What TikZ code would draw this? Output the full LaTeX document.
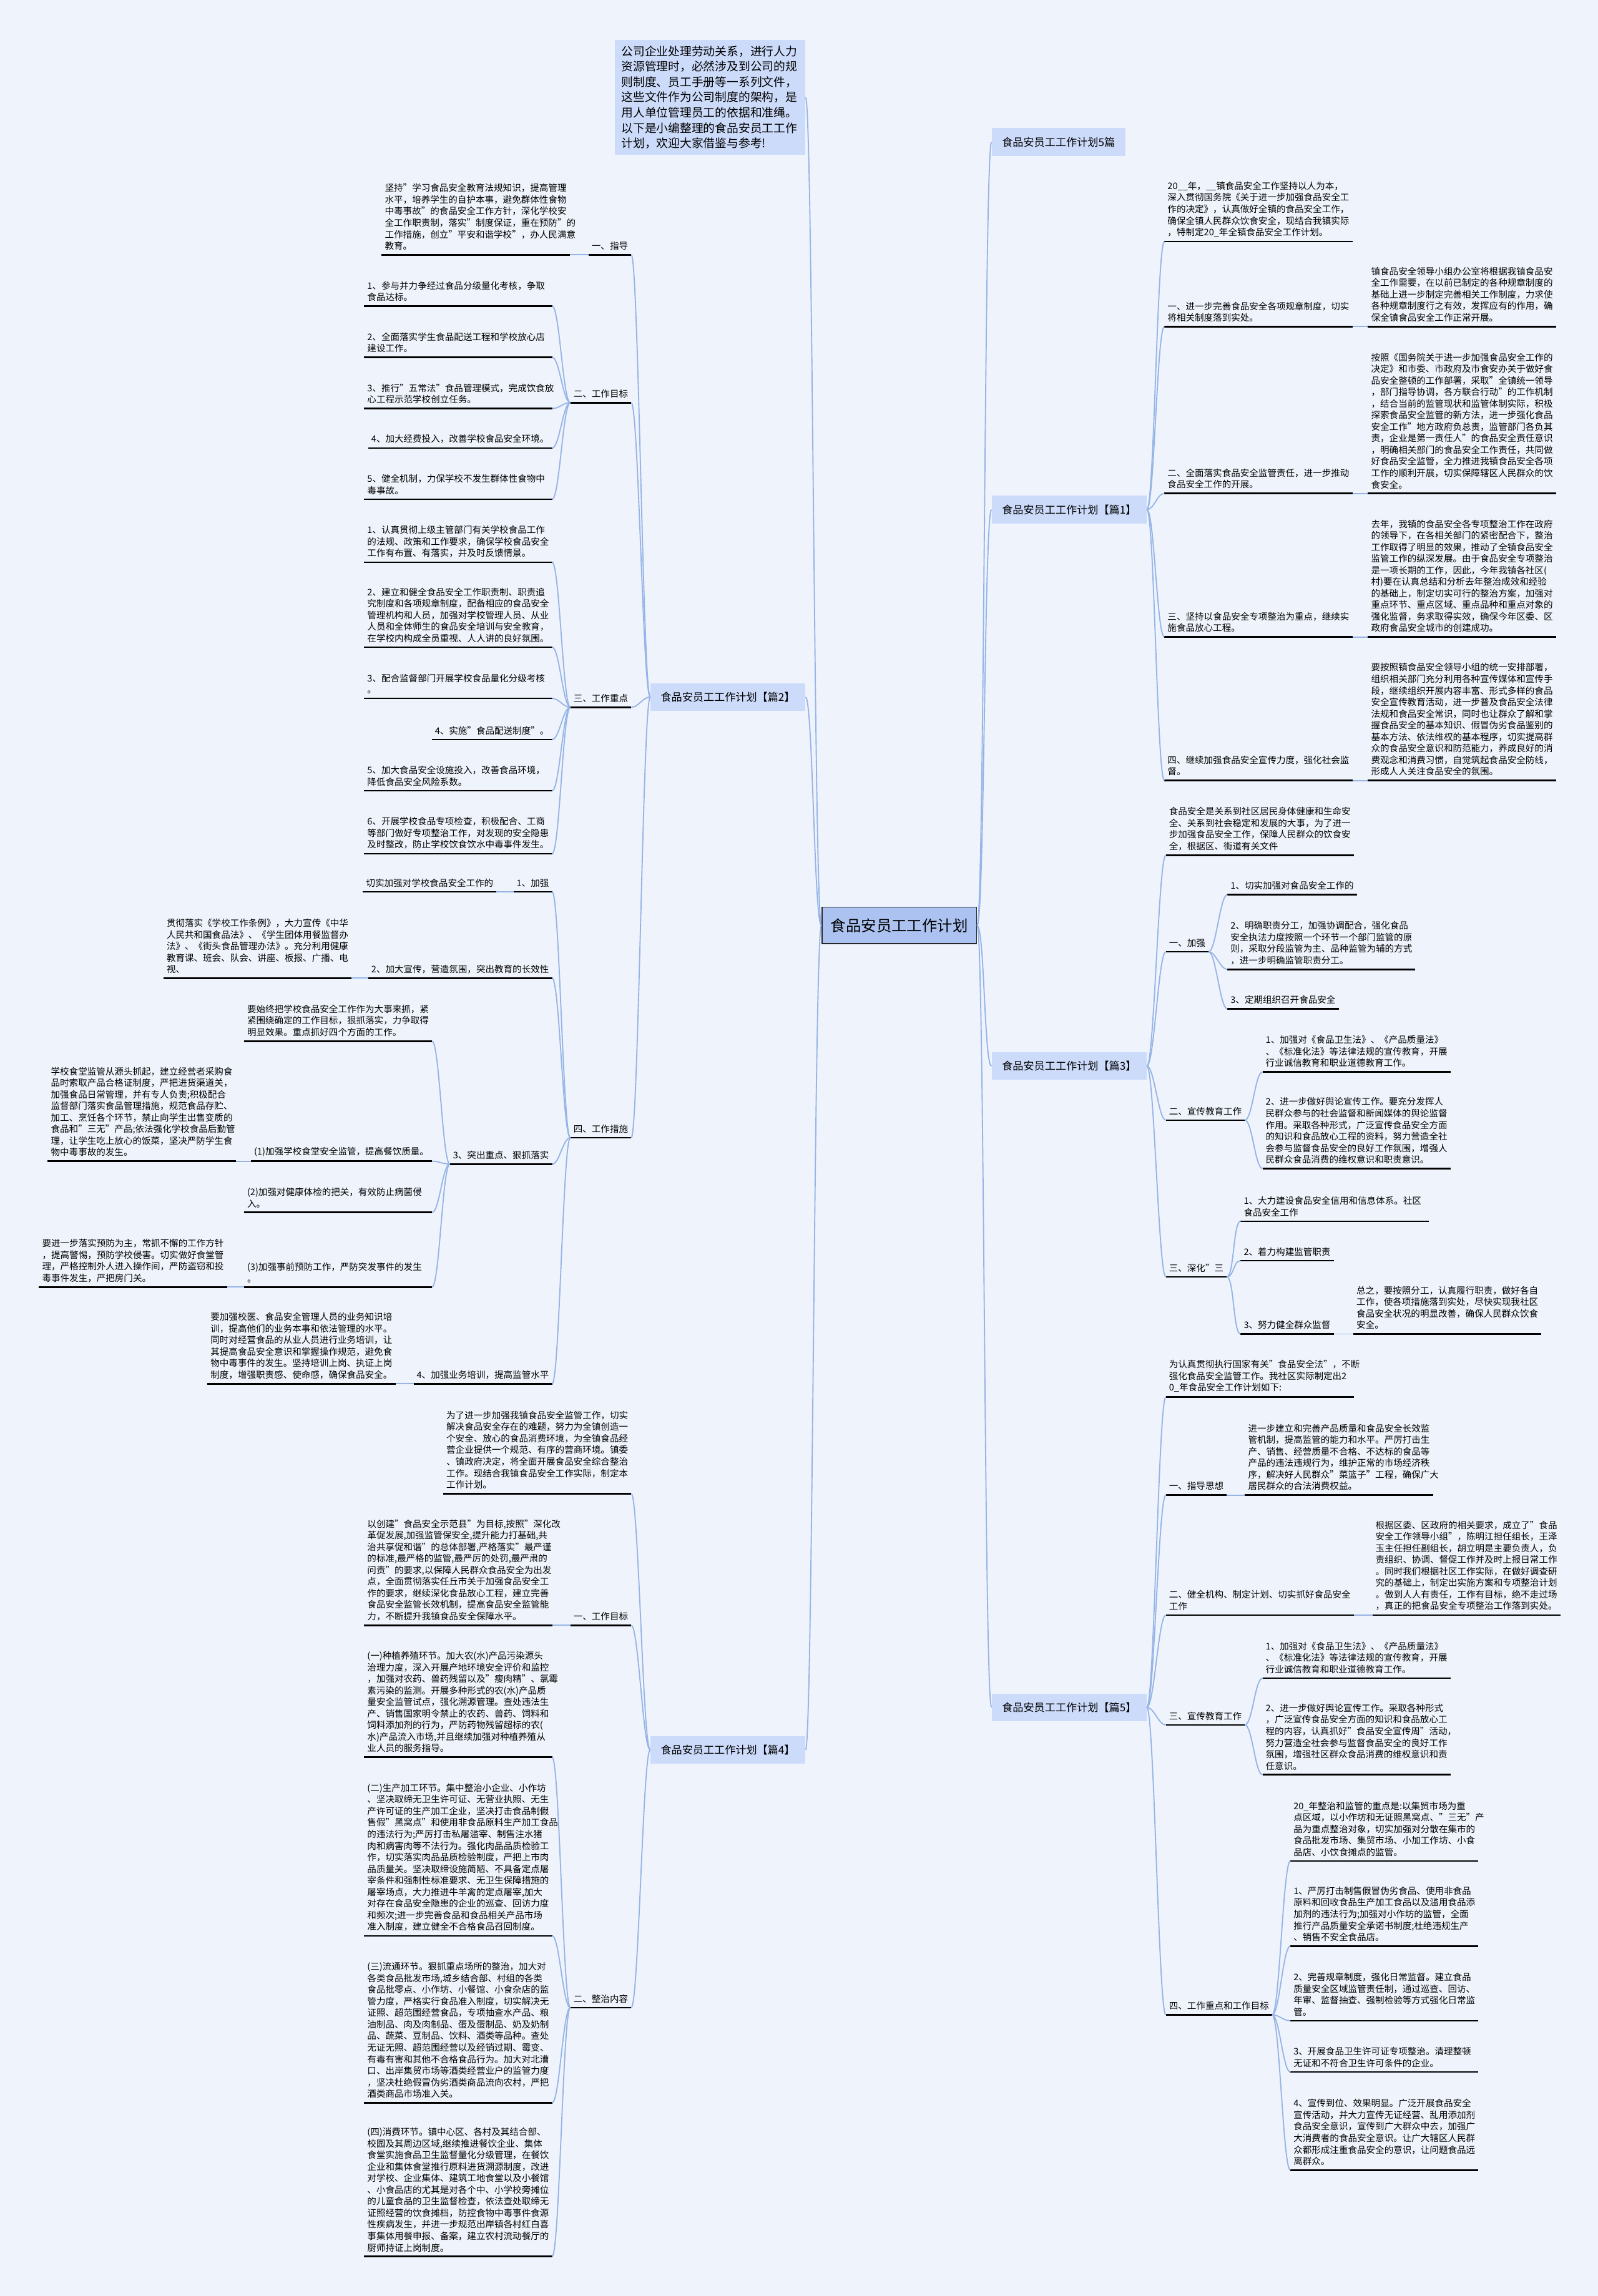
\documentclass[tikz,border=0pt]{standalone}
\usepackage{fontspec}
\setmainfont{Noto Sans CJK SC}
\definecolor{bgc}{RGB}{239,244,252}
\definecolor{topicc}{RGB}{204,219,250}
\definecolor{rootc}{RGB}{172,195,242}
\definecolor{linec}{RGB}{150,180,230}
\newcommand\leaffont{\fontsize{6.2pt}{7.9pt}\selectfont}
\newcommand\topicfont{\fontsize{7.3pt}{9pt}\selectfont}
\newcommand\rootfont{\fontsize{10.4pt}{12pt}\selectfont}
\newcommand\introfont{\fontsize{8pt}{10.5pt}\selectfont}
\newcommand\linkL[2]{\draw[conn] (#1) .. controls +(-5,0) and +(5,0) .. (#2);}
\newcommand\linkR[2]{\draw[conn] (#1) .. controls +(5,0) and +(-5,0) .. (#2);}
\tikzset{
  conn/.style={draw=linec, line width=0.8pt},
  uline/.style={draw=black, line width=1.1pt},
  leaf/.style={inner xsep=2pt, inner ysep=3pt, align=left, font=\leaffont,
    append after command={(\tikzlastnode.south west) edge[uline] (\tikzlastnode.south east)}},
  para/.style={leaf, text width=124pt},
  rt/.style={anchor=south west},
  lt/.style={anchor=south east},
  topic/.style={fill=topicc, inner xsep=7pt, minimum height=19pt, font=\topicfont},
  rootbox/.style={fill=rootc, draw=black!85, line width=0.7pt, inner xsep=6pt, minimum height=25pt, font=\rootfont},
}
\begin{document}
\begin{tikzpicture}[x=1pt,y=-1pt]
\fill[bgc] (0,0) rectangle (1091,1568);
\useasboundingbox (0,0) rectangle (1091,1568);

% ---------- root and main topics ----------
\node[rootbox] (root) at (614,632) {食品安员工工作计划};
\node[topic, anchor=west] (s0) at (677,97) {食品安员工工作计划5篇};
\node[topic, anchor=west] (s1) at (677,348) {食品安员工工作计划【篇1】};
\node[topic, anchor=west] (s3) at (677,728) {食品安员工工作计划【篇3】};
\node[topic, anchor=west] (s5) at (677,1166) {食品安员工工作计划【篇5】};
\node[topic, anchor=east, text width=121pt, inner xsep=4.5pt, inner ysep=4pt, align=left, font=\introfont] (intro) at (550,66.5)
 {公司企业处理劳动关系，进行人力\\资源管理时，必然涉及到公司的规\\则制度、员工手册等一系列文件，\\这些文件作为公司制度的架构，是\\用人单位管理员工的依据和准绳。\\以下是小编整理的食品安员工工作\\计划，欢迎大家借鉴与参考!};
\node[topic, anchor=east] (s2) at (550,476) {食品安员工工作计划【篇2】};
\node[topic, anchor=east] (s4) at (550,1195) {食品安员工工作计划【篇4】};

% ---------- 篇1 ----------
\node[para,rt] (a1) at (795,165) {20\_\_年，\_\_镇食品安全工作坚持以人为本，\\深入贯彻国务院《关于进一步加强食品安全工\\作的决定》，认真做好全镇的食品安全工作，\\确保全镇人民群众饮食安全，现结合我镇实际\\，特制定20\_年全镇食品安全工作计划。};
\node[para,rt] (a2) at (795,223) {一、进一步完善食品安全各项规章制度，切实\\将相关制度落到实处。};
\node[para,rt] (a2x) at (934,223) {镇食品安全领导小组办公室将根据我镇食品安\\全工作需要，在以前已制定的各种规章制度的\\基础上进一步制定完善相关工作制度，力求使\\各种规章制度行之有效，发挥应有的作用，确\\保全镇食品安全工作正常开展。};
\node[para,rt] (a3) at (795,337) {二、全面落实食品安全监管责任，进一步推动\\食品安全工作的开展。};
\node[para,rt] (a3x) at (934,337) {按照《国务院关于进一步加强食品安全工作的\\决定》和市委、市政府及市食安办关于做好食\\品安全整顿的工作部署，采取"全镇统一领导\\，部门指导协调，各方联合行动"的工作机制\\，结合当前的监管现状和监管体制实际，积极\\探索食品安全监管的新方法，进一步强化食品\\安全工作"地方政府负总责，监管部门各负其\\责，企业是第一责任人"的食品安全责任意识\\，明确相关部门的食品安全工作责任，共同做\\好食品安全监管，全力推进我镇食品安全各项\\工作的顺利开展，切实保障辖区人民群众的饮\\食安全。};
\node[para,rt] (a4) at (795,435) {三、坚持以食品安全专项整治为重点，继续实\\施食品放心工程。};
\node[para,rt] (a4x) at (934,435) {去年，我镇的食品安全各专项整治工作在政府\\的领导下，在各相关部门的紧密配合下，整治\\工作取得了明显的效果，推动了全镇食品安全\\监管工作的纵深发展。由于食品安全专项整治\\是一项长期的工作，因此，今年我镇各社区(\\村)要在认真总结和分析去年整治成效和经验\\的基础上，制定切实可行的整治方案，加强对\\重点环节、重点区域、重点品种和重点对象的\\强化监督，务求取得实效，确保今年区委、区\\政府食品安全城市的创建成功。};
\node[para,rt] (a5) at (795,533) {四、继续加强食品安全宣传力度，强化社会监\\督。};
\node[para,rt] (a5x) at (934,533) {要按照镇食品安全领导小组的统一安排部署，\\组织相关部门充分利用各种宣传媒体和宣传手\\段，继续组织开展内容丰富、形式多样的食品\\安全宣传教育活动，进一步普及食品安全法律\\法规和食品安全常识，同时也让群众了解和掌\\握食品安全的基本知识、假冒伪劣食品鉴别的\\基本方法、依法维权的基本程序，切实提高群\\众的食品安全意识和防范能力，养成良好的消\\费观念和消费习惯，自觉筑起食品安全防线，\\形成人人关注食品安全的氛围。};

% ---------- 篇3 ----------
\node[para,rt] (b1) at (796,584) {食品安全是关系到社区居民身体健康和生命安\\全、关系到社会稳定和发展的大事，为了进一\\步加强食品安全工作，保障人民群众的饮食安\\全，根据区、街道有关文件};
\node[leaf,rt] (b2) at (796,650) {一、加强};
\node[leaf,rt] (b21) at (838,611) {1、切实加强对食品安全工作的};
\node[para,rt] (b22) at (838,662) {2、明确职责分工，加强协调配合，强化食品\\安全执法力度按照一个环节一个部门监管的原\\则，采取分段监管为主、品种监管为辅的方式\\，进一步明确监管职责分工。};
\node[leaf,rt] (b23) at (838,689) {3、定期组织召开食品安全};
\node[leaf,rt] (b3) at (796,765) {二、宣传教育工作};
\node[para,rt] (b31) at (862,732) {1、加强对《食品卫生法》、《产品质量法》\\、《标准化法》等法律法规的宣传教育，开展\\行业诚信教育和职业道德教育工作。};
\node[para,rt] (b32) at (862,798) {2、进一步做好舆论宣传工作。要充分发挥人\\民群众参与的社会监督和新闻媒体的舆论监督\\作用。采取各种形式，广泛宣传食品安全方面\\的知识和食品放心工程的资料，努力营造全社\\会参与监督食品安全的良好工作氛围，增强人\\民群众食品消费的维权意识和职责意识。};
\node[leaf,rt] (b4) at (796,872) {三、深化"三};
\node[para,rt] (b41) at (847,834) {1、大力建设食品安全信用和信息体系。社区\\食品安全工作};
\node[leaf,rt] (b42) at (847,861) {2、着力构建监管职责};
\node[leaf,rt] (b43) at (847,911) {3、努力健全群众监督};
\node[para,rt] (b43x) at (924,911) {总之，要按照分工，认真履行职责，做好各自\\工作，使各项措施落到实处，尽快实现我社区\\食品安全状况的明显改善，确保人民群众饮食\\安全。};

% ---------- 篇5 ----------
\node[para,rt] (c1) at (796,954) {为认真贯彻执行国家有关"食品安全法"，不断\\强化食品安全监管工作。我社区实际制定出2\\0\_年食品安全工作计划如下:};
\node[leaf,rt] (c2) at (796,1021) {一、指导思想};
\node[para,rt] (c2x) at (850,1021) {进一步建立和完善产品质量和食品安全长效监\\管机制，提高监管的能力和水平。严厉打击生\\产、销售、经营质量不合格、不达标的食品等\\产品的违法违规行为，维护正常的市场经济秩\\序，解决好人民群众"菜篮子"工程，确保广大\\居民群众的合法消费权益。};
\node[para,rt] (c3) at (796,1103) {二、健全机构、制定计划、切实抓好食品安全\\工作};
\node[para,rt] (c3x) at (937,1103) {根据区委、区政府的相关要求，成立了"食品\\安全工作领导小组"，陈明江担任组长，王泽\\玉主任担任副组长，胡立明是主要负责人，负\\责组织、协调、督促工作并及时上报日常工作\\。同时我们根据社区工作实际，在做好调查研\\究的基础上，制定出实施方案和专项整治计划\\。做到人人有责任，工作有目标，绝不走过场\\，真正的把食品安全专项整治工作落到实处。};
\node[leaf,rt] (c4) at (796,1178) {三、宣传教育工作};
\node[para,rt] (c41) at (862,1146) {1、加强对《食品卫生法》、《产品质量法》\\、《标准化法》等法律法规的宣传教育，开展\\行业诚信教育和职业道德教育工作。};
\node[para,rt] (c42) at (862,1212) {2、进一步做好舆论宣传工作。采取各种形式\\，广泛宣传食品安全方面的知识和食品放心工\\程的内容，认真抓好"食品安全宣传周"活动，\\努力营造全社会参与监督食品安全的良好工作\\氛围，增强社区群众食品消费的维权意识和责\\任意识。};
\node[leaf,rt] (c5) at (796,1376) {四、工作重点和工作目标};
\node[para,rt] (c51) at (881,1271) {20\_年整治和监管的重点是:以集贸市场为重\\点区域，以小作坊和无证照黑窝点、"三无"产\\品为重点整治对象，切实加强对分散在集市的\\食品批发市场、集贸市场、小加工作坊、小食\\品店、小饮食摊点的监管。};
\node[para,rt] (c52) at (881,1329) {1、严厉打击制售假冒伪劣食品、使用非食品\\原料和回收食品生产加工食品以及滥用食品添\\加剂的违法行为;加强对小作坊的监管，全面\\推行产品质量安全承诺书制度;杜绝违规生产\\、销售不安全食品店。};
\node[para,rt] (c53) at (881,1380) {2、完善规章制度，强化日常监督。建立食品\\质量安全区域监管责任制，通过巡查、回访、\\年审、监督抽查、强制检验等方式强化日常监\\管。};
\node[para,rt] (c54) at (881,1415) {3、开展食品卫生许可证专项整治。清理整顿\\无证和不符合卫生许可条件的企业。};
\node[para,rt] (c55) at (881,1482) {4、宣传到位、效果明显。广泛开展食品安全\\宣传活动，并大力宣传无证经营、乱用添加剂\\食品安全意识，宣传到广大群众中去，加强广\\大消费者的食品安全意识。让广大辖区人民群\\众都形成注重食品安全的意识，让问题食品远\\离群众。};

% ---------- 篇2 ----------
\node[leaf,lt] (d1) at (431,174) {一、指导};
\node[para,lt] (d1x) at (389,174) {坚持"学习食品安全教育法规知识，提高管理\\水平，培养学生的自护本事，避免群体性食物\\中毒事故"的食品安全工作方针，深化学校安\\全工作职责制，落实"制度保证，重在预防"的\\工作措施，创立"平安和谐学校"，办人民满意\\教育。};
\node[leaf,lt] (d2) at (431,275) {二、工作目标};
\node[para,lt] (d21) at (377,209) {1、参与并力争经过食品分级量化考核，争取\\食品达标。};
\node[para,lt] (d22) at (377,244) {2、全面落实学生食品配送工程和学校放心店\\建设工作。};
\node[para,lt] (d23) at (377,279) {3、推行"五常法"食品管理模式，完成饮食放\\心工程示范学校创立任务。};
\node[leaf,lt] (d24) at (377,306) {4、加大经费投入，改善学校食品安全环境。};
\node[para,lt] (d25) at (377,341) {5、健全机制，力保学校不发生群体性食物中\\毒事故。};
\node[leaf,lt] (d3) at (431,483) {三、工作重点};
\node[para,lt] (d31) at (377,384) {1、认真贯彻上级主管部门有关学校食品工作\\的法规、政策和工作要求，确保学校食品安全\\工作有布置、有落实，并及时反馈情景。};
\node[para,lt] (d32) at (377,442) {2、建立和健全食品安全工作职责制、职责追\\究制度和各项规章制度，配备相应的食品安全\\管理机构和人员，加强对学校管理人员、从业\\人员和全体师生的食品安全培训与安全教育，\\在学校内构成全员重视、人人讲的良好氛围。};
\node[para,lt] (d33) at (377,477) {3、配合监督部门开展学校食品量化分级考核\\。};
\node[leaf,lt] (d34) at (377,505) {4、实施"食品配送制度"。};
\node[para,lt] (d35) at (377,540) {5、加大食品安全设施投入，改善食品环境，\\降低食品安全风险系数。};
\node[para,lt] (d36) at (377,583) {6、开展学校食品专项检查，积极配合、工商\\等部门做好专项整治工作，对发现的安全隐患\\及时整改，防止学校饮食饮水中毒事件发生。};
\node[leaf,lt] (d4) at (431,777) {四、工作措施};
\node[leaf,lt] (e1) at (377,609) {1、加强};
\node[leaf,lt] (e1x) at (339,609) {切实加强对学校食品安全工作的};
\node[leaf,lt] (e2) at (377,668) {2、加大宣传，营造氛围，突出教育的长效性};
\node[para,lt] (e2x) at (240,668) {贯彻落实《学校工作条例》，大力宣传《中华\\人民共和国食品法》、《学生团体用餐监督办\\法》、《街头食品管理办法》。充分利用健康\\教育课、班会、队会、讲座、板报、广播、电\\视、};
\node[leaf,lt] (e3) at (377,795) {3、突出重点、狠抓落实};
\node[para,lt] (e31) at (295,711) {要始终把学校食品安全工作作为大事来抓，紧\\紧围绕确定的工作目标，狠抓落实，力争取得\\明显效果。重点抓好四个方面的工作。};
\node[leaf,lt] (e32) at (295,793) {(1)加强学校食堂安全监管，提高餐饮质量。};
\node[para,lt] (e32x) at (161,793) {学校食堂监管从源头抓起，建立经营者采购食\\品时索取产品合格证制度，严把进货渠道关，\\加强食品日常管理，并有专人负责;积极配合\\监督部门落实食品管理措施，规范食品存贮、\\加工、烹饪各个环节，禁止向学生出售变质的\\食品和"三无"产品;依法强化学校食品后勤管\\理，让学生吃上放心的饭菜，坚决严防学生食\\物中毒事故的发生。};
\node[para,lt] (e33) at (295,828) {(2)加强对健康体检的把关，有效防止病菌侵\\入。};
\node[para,lt] (e34) at (295,879) {(3)加强事前预防工作，严防突发事件的发生\\。};
\node[para,lt] (e34x) at (155,879) {要进一步落实预防为主，常抓不懈的工作方针\\，提高警惕，预防学校侵害。切实做好食堂管\\理，严格控制外人进入操作间，严防盗窃和投\\毒事件发生，严把房门关。};
\node[leaf,lt] (e4) at (377,945) {4、加强业务培训，提高监管水平};
\node[para,lt] (e4x) at (270,945) {要加强校医、食品安全管理人员的业务知识培\\训，提高他们的业务本事和依法管理的水平。\\同时对经营食品的从业人员进行业务培训，让\\其提高食品安全意识和掌握操作规范，避免食\\物中毒事件的发生。坚持培训上岗、执证上岗\\制度，增强职责感、使命感，确保食品安全。};

% ---------- 篇4 ----------
\node[para,lt] (f1) at (431,1020) {为了进一步加强我镇食品安全监管工作，切实\\解决食品安全存在的难题，努力为全镇创造一\\个安全、放心的食品消费环境，为全镇食品经\\营企业提供一个规范、有序的营商环境。镇委\\、镇政府决定，将全面开展食品安全综合整治\\工作。现结合我镇食品安全工作实际，制定本\\工作计划。};
\node[leaf,lt] (f2) at (431,1110) {一、工作目标};
\node[para,lt] (f2x) at (377,1110) {以创建"食品安全示范县"为目标,按照"深化改\\革促发展,加强监管保安全,提升能力打基础,共\\治共享促和谐"的总体部署,严格落实"最严谨\\的标准,最严格的监管,最严厉的处罚,最严肃的\\问责"的要求,以保障人民群众食品安全为出发\\点，全面贯彻落实任丘市关于加强食品安全工\\作的要求，继续深化食品放心工程，建立完善\\食品安全监管长效机制，提高食品安全监管能\\力，不断提升我镇食品安全保障水平。};
\node[leaf,lt] (f3) at (431,1371) {二、整治内容};
\node[para,lt] (f31) at (377,1200) {(一)种植养殖环节。加大农(水)产品污染源头\\治理力度，深入开展产地环境安全评价和监控\\，加强对农药、兽药残留以及"瘦肉精"、氯霉\\素污染的监测。开展多种形式的农(水)产品质\\量安全监管试点，强化溯源管理。查处违法生\\产、销售国家明令禁止的农药、兽药、饲料和\\饲料添加剂的行为，严防药物残留超标的农(\\水)产品流入市场,并且继续加强对种植养殖从\\业人员的服务指导。};
\node[para,lt] (f32) at (377,1322) {(二)生产加工环节。集中整治小企业、小作坊\\、坚决取缔无卫生许可证、无营业执照、无生\\产许可证的生产加工企业，坚决打击食品制假\\售假"黑窝点"和使用非食品原料生产加工食品\\的违法行为;严厉打击私屠滥宰、制售注水猪\\肉和病害肉等不法行为。强化肉品品质检验工\\作，切实落实肉品品质检验制度，严把上市肉\\品质量关。坚决取缔设施简陋、不具备定点屠\\宰条件和强制性标准要求、无卫生保障措施的\\屠宰场点，大力推进牛羊禽的定点屠宰,加大\\对存在食品安全隐患的企业的巡查、回访力度\\和频次;进一步完善食品和食品相关产品市场\\准入制度，建立健全不合格食品召回制度。};
\node[para,lt] (f33) at (377,1436) {(三)流通环节。狠抓重点场所的整治，加大对\\各类食品批发市场,城乡结合部、村组的各类\\食品批零点、小作坊、小餐馆、小食杂店的监\\管力度，严格实行食品准入制度，切实解决无\\证照、超范围经营食品，专项抽查水产品、粮\\油制品、肉及肉制品、蛋及蛋制品、奶及奶制\\品、蔬菜、豆制品、饮料、酒类等品种。查处\\无证无照、超范围经营以及经销过期、霉变、\\有毒有害和其他不合格食品行为。加大对北漕\\口、出岸集贸市场等酒类经营业户的监管力度\\，坚决杜绝假冒伪劣酒类商品流向农村，严把\\酒类商品市场准入关。};
\node[para,lt] (f34) at (377,1541) {(四)消费环节。镇中心区、各村及其结合部、\\校园及其周边区域,继续推进餐饮企业、集体\\食堂实施食品卫生监督量化分级管理，在餐饮\\企业和集体食堂推行原料进货溯源制度，改进\\对学校、企业集体、建筑工地食堂以及小餐馆\\、小食品店的尤其是对各个中、小学校旁摊位\\的儿童食品的卫生监督检查，依法查处取缔无\\证照经营的饮食摊档，防控食物中毒事件食源\\性疾病发生，并进一步规范出岸镇各村红白喜\\事集体用餐申报、备案，建立农村流动餐厅的\\厨师持证上岗制度。};

% ---------- connectors ----------
\foreach \n in {s0,s1,s3,s5} {\linkR{root.east}{\n.west}}
\foreach \n in {intro,s2,s4} {\linkL{root.west}{\n.east}}
\foreach \n in {a1,a2,a3,a4,a5} {\linkR{s1.east}{\n.south west}}
\foreach \n in {a2,a3,a4,a5} {\linkR{\n.south east}{\n x.south west}}
\foreach \n in {b1,b2,b3,b4} {\linkR{s3.east}{\n.south west}}
\foreach \n in {b21,b22,b23} {\linkR{b2.south east}{\n.south west}}
\foreach \n in {b31,b32} {\linkR{b3.south east}{\n.south west}}
\foreach \n in {b41,b42,b43} {\linkR{b4.south east}{\n.south west}}
\linkR{b43.south east}{b43x.south west}
\foreach \n in {c1,c2,c3,c4,c5} {\linkR{s5.east}{\n.south west}}
\linkR{c2.south east}{c2x.south west}
\linkR{c3.south east}{c3x.south west}
\foreach \n in {c41,c42} {\linkR{c4.south east}{\n.south west}}
\foreach \n in {c51,c52,c53,c54,c55} {\linkR{c5.south east}{\n.south west}}
\foreach \n in {d1,d2,d3,d4} {\linkL{s2.west}{\n.south east}}
\linkL{d1.south west}{d1x.south east}
\foreach \n in {d21,d22,d23,d24,d25} {\linkL{d2.south west}{\n.south east}}
\foreach \n in {d31,d32,d33,d34,d35,d36} {\linkL{d3.south west}{\n.south east}}
\foreach \n in {e1,e2,e3,e4} {\linkL{d4.south west}{\n.south east}}
\linkL{e1.south west}{e1x.south east}
\linkL{e2.south west}{e2x.south east}
\foreach \n in {e31,e32,e33,e34} {\linkL{e3.south west}{\n.south east}}
\linkL{e32.south west}{e32x.south east}
\linkL{e34.south west}{e34x.south east}
\linkL{e4.south west}{e4x.south east}
\foreach \n in {f1,f2,f3} {\linkL{s4.west}{\n.south east}}
\linkL{f2.south west}{f2x.south east}
\foreach \n in {f31,f32,f33,f34} {\linkL{f3.south west}{\n.south east}}
\end{tikzpicture}
\end{document}
